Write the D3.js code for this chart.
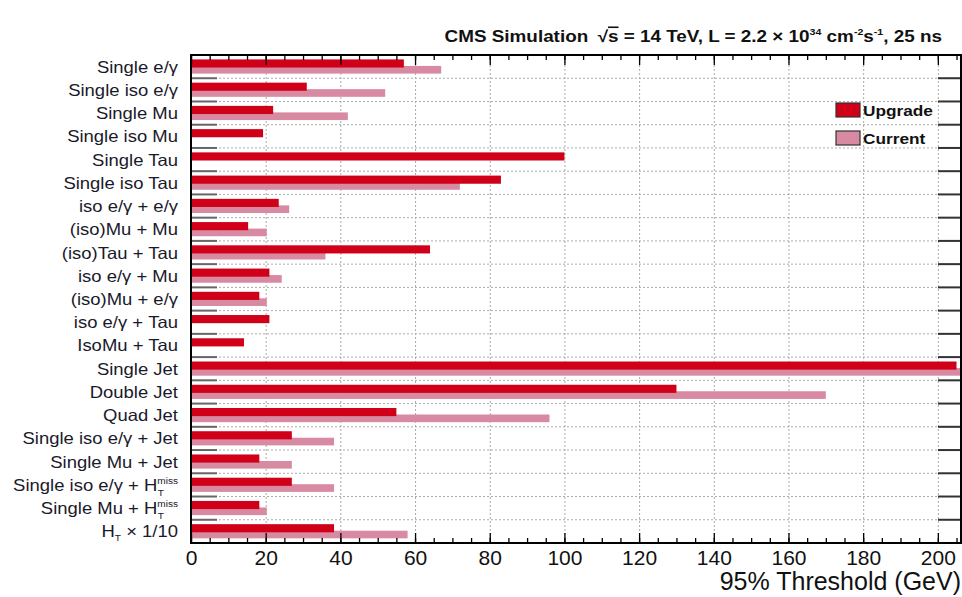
<!DOCTYPE html>
<html><head><meta charset="utf-8">
<script src="https://cdn.jsdelivr.net/npm/d3@7"></script>
<style>
body{margin:0;background:#fff;}
text{font-family:"Liberation Sans",Arial,Helvetica,sans-serif;}
</style></head>
<body><svg id="c" width="962" height="597"></svg>
<script>
const categories = [
  "Single e/γ","Single iso e/γ","Single Mu","Single iso Mu","Single Tau","Single iso Tau",
  "iso e/γ + e/γ","(iso)Mu + Mu","(iso)Tau + Tau","iso e/γ + Mu","(iso)Mu + e/γ","iso e/γ + Tau",
  "IsoMu + Tau","Single Jet","Double Jet","Quad Jet","Single iso e/γ + Jet","Single Mu + Jet",
  "Single iso e/γ + HTmiss","Single Mu + HTmiss","HT × 1/10"
];
const upgrade = [57,31,22,19.3,100,83,23.5,15.3,64,21,18.3,21,14.2,205,130,55,27,18.3,27,18.3,38.3];
const current = [67,52,42,0,0,72,26.3,20.3,36,24.3,20.3,0,0,210,170,96,38.3,27,38.3,20.3,58];
const seriesNames = ["Upgrade","Current"];
const colors = {"Upgrade":"#cf0018","Current":"#d98aa3"};
const majorTicks = [0,20,40,60,80,100,120,140,160,180,200];
const minorTicks = d3.range(0,206,5);

const svg = d3.select("#c");
const L=191, R=961, T=55, B=543;
const x = d3.scaleLinear().domain([0,206.2]).range([L,R]);
const y = d3.scaleBand().domain(categories).range([T,B]).padding(0);
const bw = y.bandwidth();

svg.append("defs").append("clipPath").attr("id","clip")
  .append("rect").attr("x",L).attr("y",T).attr("width",R-L).attr("height",B-T);

// vertical grid
svg.append("g").attr("transform",`translate(0,${B})`)
  .call(d3.axisBottom(x).tickValues(majorTicks.slice(1)).tickSize(-(B-T)).tickFormat(""))
  .call(g=>{g.select(".domain").remove();g.selectAll("line").attr("stroke","#aaa").attr("stroke-dasharray","2,2");});
// horizontal grid at row boundaries
const bounds = categories.slice(1).map(c=>y(c));
svg.append("g").selectAll("line").data(bounds).join("line")
  .attr("x1",L).attr("x2",R).attr("y1",d=>d).attr("y2",d=>d)
  .attr("stroke","#aaa").attr("stroke-dasharray","2,2");

// bars
const gb = svg.append("g").attr("clip-path","url(#clip)");
gb.selectAll("rect.cur").data(categories).join("rect").attr("class","cur")
  .attr("x",x(0)).attr("y",d=>y(d)+bw*0.47).attr("height",bw*0.33)
  .attr("width",(d,i)=>x(current[i])-x(0)).attr("fill",colors.Current);
gb.selectAll("rect.up").data(categories).join("rect").attr("class","up")
  .attr("x",x(0)).attr("y",d=>y(d)+bw*0.19).attr("height",bw*0.35)
  .attr("width",(d,i)=>x(upgrade[i])-x(0)).attr("fill",colors.Upgrade);

// row ticks left and right
svg.append("g").selectAll("line").data(bounds).join("line")
  .attr("x1",L).attr("x2",L+26).attr("y1",d=>d).attr("y2",d=>d)
  .attr("stroke","#666").attr("stroke-width",2);
svg.append("g").selectAll("line").data(bounds).join("line")
  .attr("x1",R-23).attr("x2",R).attr("y1",d=>d).attr("y2",d=>d)
  .attr("stroke","#333").attr("stroke-width",2);

// bottom axis
svg.append("g").attr("transform",`translate(0,${B})`)
  .call(d3.axisBottom(x).tickValues(minorTicks).tickSize(-5).tickFormat(""))
  .call(g=>{g.select(".domain").remove();g.selectAll("line").attr("stroke","#000").attr("stroke-width",1.3);});
const xb = svg.append("g").attr("transform",`translate(0,${B})`)
  .call(d3.axisBottom(x).tickValues(majorTicks).tickSize(-10).tickPadding(7).tickFormat(d3.format("d")));
xb.select(".domain").remove();
xb.selectAll("line").attr("stroke","#000").attr("stroke-width",1.3);
xb.selectAll("text").attr("font-size",21).attr("fill","#111").attr("dy","0.71em");
// top axis
svg.append("g").attr("transform",`translate(0,${T})`)
  .call(d3.axisTop(x).tickValues(minorTicks).tickSize(-5).tickFormat(""))
  .call(g=>{g.select(".domain").remove();g.selectAll("line").attr("stroke","#000").attr("stroke-width",1.3);});
svg.append("g").attr("transform",`translate(0,${T})`)
  .call(d3.axisTop(x).tickValues(majorTicks).tickSize(-10).tickFormat(""))
  .call(g=>{g.select(".domain").remove();g.selectAll("line").attr("stroke","#000").attr("stroke-width",1.3);});

// frame
svg.append("rect").attr("x",L).attr("y",T).attr("width",R-L).attr("height",B-T)
  .attr("fill","none").attr("stroke","#000").attr("stroke-width",2);

// category labels
const lab = svg.append("g").selectAll("text").data(categories).join("text")
  .attr("transform",d=>`translate(178,${y(d)+bw/2+6}) scale(1.12,1)`)
  .attr("x",0).attr("text-anchor","end")
  .attr("font-size",16.5).attr("fill","#1a1a2a");
lab.each(function(d){
  const t=d3.select(this);
  if(d.endsWith("HTmiss")){
    t.append("tspan").text(d.replace("HTmiss","H"));
    t.append("tspan").attr("font-size",9).attr("dy",-7).text("miss");
    t.append("tspan").attr("font-size",9).attr("dx",-18).attr("dy",12).text("T");
    t.append("tspan").attr("dy",-5).text("\u200A");
  } else if(d.startsWith("HT")){
    t.append("tspan").text("H");
    t.append("tspan").attr("font-size",9).attr("dy",4).text("T");
    t.append("tspan").attr("dy",-4).text(d.replace("HT",""));
  } else t.text(d);
});

// axis title
svg.append("text").attr("x",961).attr("y",590).attr("text-anchor","end")
  .attr("font-size",25).attr("fill","#111").text("95% Threshold (GeV)");

// title
const tt = svg.append("text").attr("transform","translate(942,42) scale(1.18,1)")
  .attr("x",0).attr("text-anchor","end")
  .attr("font-size",16).attr("font-weight","bold").attr("fill","#111");
tt.append("tspan").text("CMS Simulation");
tt.append("tspan").attr("dx",8).text("\u221A");
tt.append("tspan").style("text-decoration","overline").text("s");
tt.append("tspan").text(" = 14 TeV, L = 2.2 \u00d7 10");
tt.append("tspan").attr("font-size",9).attr("dy",-7).text("34");
tt.append("tspan").attr("dy",7).text(" cm");
tt.append("tspan").attr("font-size",9).attr("dy",-7).text("-2");
tt.append("tspan").attr("dy",7).text("s");
tt.append("tspan").attr("font-size",9).attr("dy",-7).text("-1");
tt.append("tspan").attr("dy",7).text(", 25 ns");

// legend
const lg = svg.append("g").selectAll("g").data(seriesNames).join("g")
  .attr("transform",(d,i)=>`translate(836,${103+i*28})`);
lg.append("rect").attr("width",24).attr("height",14).attr("fill",d=>colors[d])
  .attr("stroke","#333").attr("stroke-width",1.2);
lg.append("text").attr("transform","translate(27,13) scale(1.15,1)").attr("font-size",15).attr("font-weight","bold")
  .attr("fill","#111").text(d=>d);
</script></body></html>
